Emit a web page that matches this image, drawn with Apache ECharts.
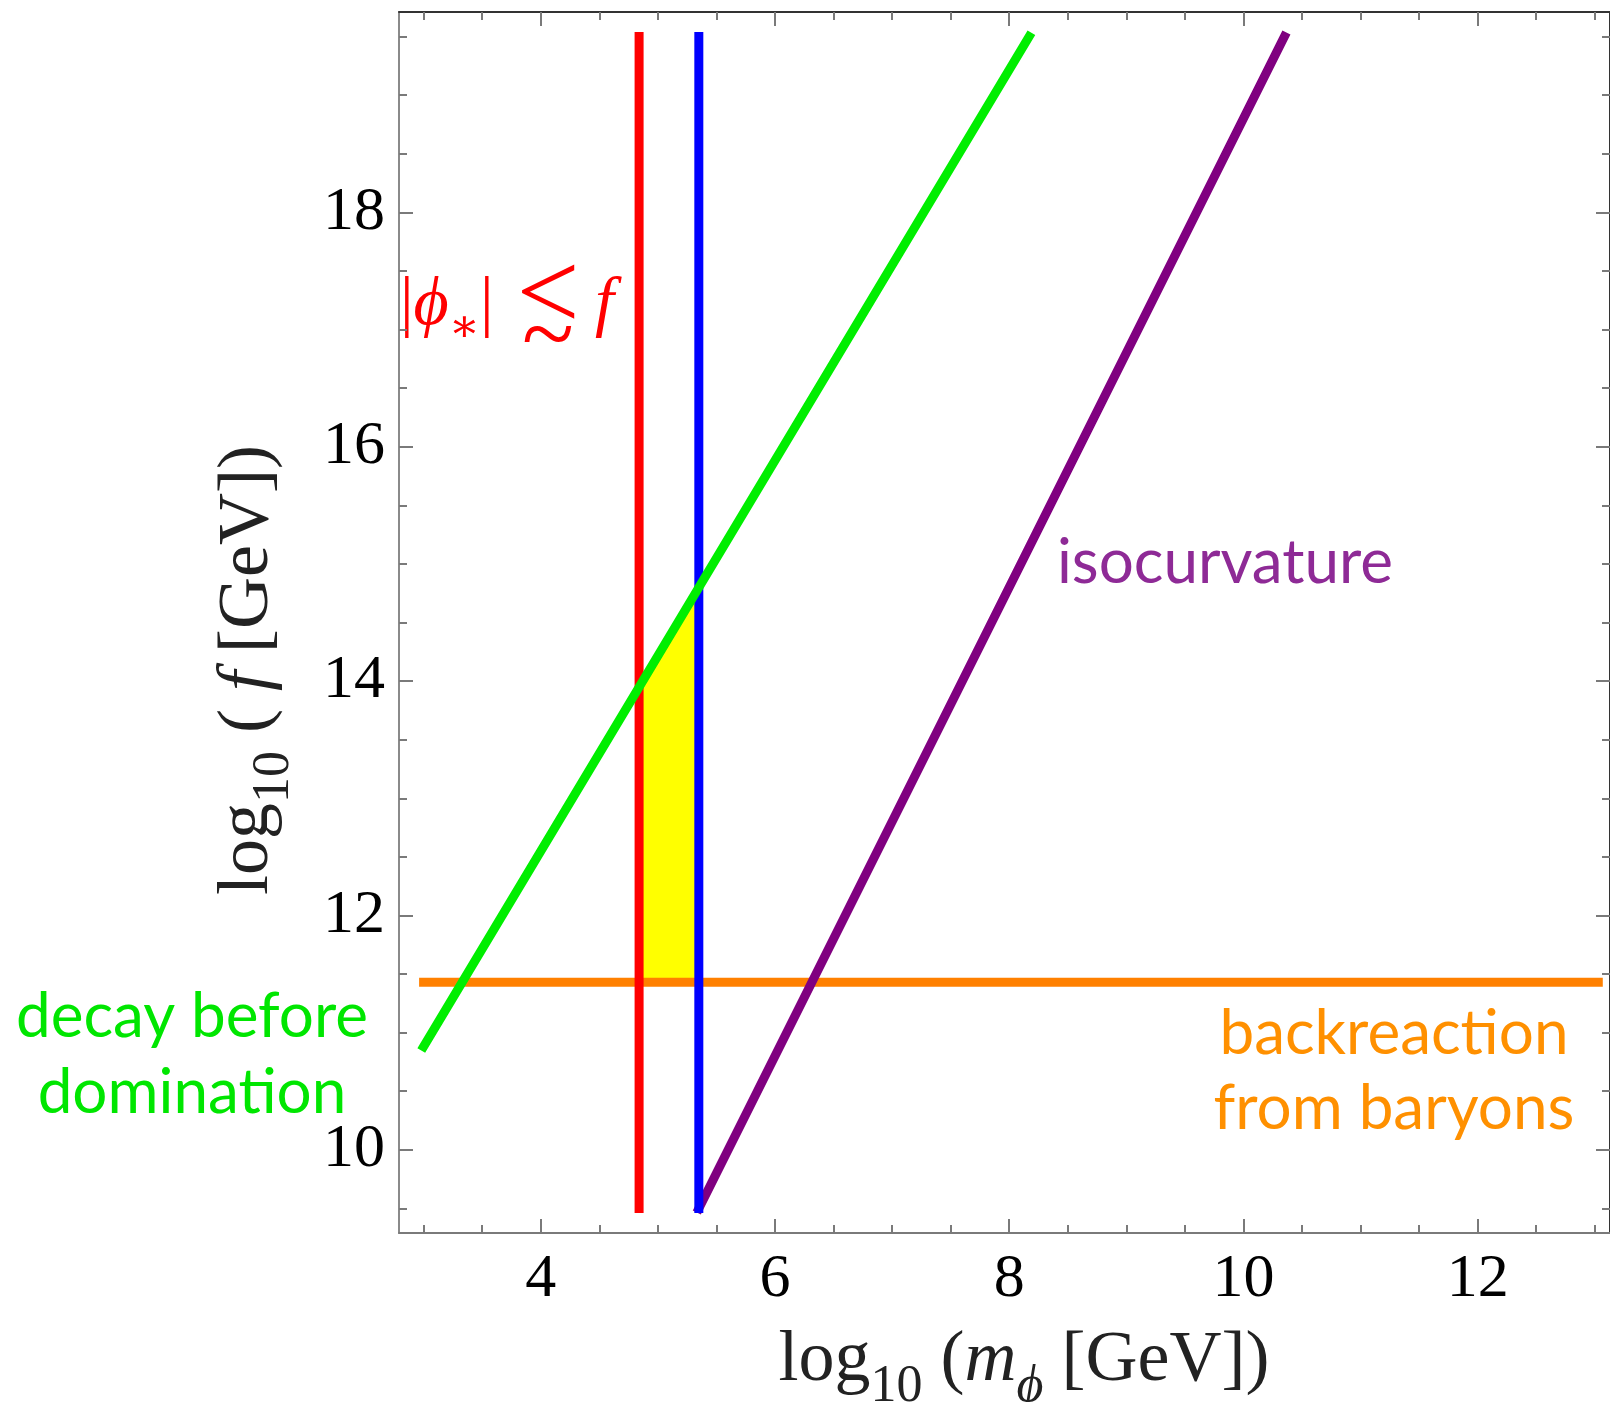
<!DOCTYPE html>
<html>
<head>
<meta charset="utf-8">
<script src="https://cdn.jsdelivr.net/npm/echarts@6/dist/echarts.min.js"></script>
<style>
  html, body { margin: 0; padding: 0; background: #fff; }
  #chart { width: 1610px; height: 1402px; }
</style>
</head>
<body>
<div id="chart"></div>
<script>
// tick positions
const xMajorTicks = [4, 6, 8, 10, 12];
const xMinorTicks = [3, 3.5, 4.5, 5, 5.5, 6.5, 7, 7.5, 8.5, 9, 9.5, 10.5, 11, 11.5, 12.5, 13];
const yMajorTicks = [10, 12, 14, 16, 18];
const yMinorTicks = [9.5, 10.5, 11, 11.5, 12.5, 13, 13.5, 14.5, 15, 15.5, 16.5, 17, 17.5, 18.5, 19, 19.5];

// constraint lines  [log10 m, log10 f]
const redLine = [[4.84, 9.5], [4.84, 19.5]];
const blueLine = [[5.35, 9.5], [5.35, 19.5]];
const greenLine = [[3.0, 10.88], [8.17, 19.5]];
const purpleLine = [[5.35, 9.5], [10.35, 19.5]];
const orangeLine = [[3.0, 11.43], [13.03, 11.43]];
// allowed (yellow) region
const allowedRegion = [[4.84, 11.43], [5.35, 11.43], [5.35, 14.8], [4.84, 13.95]];

const X_MIN = 2.79, X_MAX = 13.13;
const Y_MIN = 9.29, Y_MAX = 19.71;

const serif = "'Liberation Serif', 'DejaVu Serif', 'Times New Roman', serif";
const sans = "Lato, 'Open Sans', sans-serif";
const tickColor = '#7a7a7a';

function xAxis(position, ticks, len, lineColor, showLabel) {
  return {
    type: 'value', gridIndex: 0, position: position, min: X_MIN, max: X_MAX,
    axisLine: { show: !!lineColor, onZero: false, lineStyle: { color: lineColor || '#000', width: 2 } },
    axisTick: { show: true, inside: true, length: len, customValues: ticks, lineStyle: { color: tickColor, width: 2 } },
    axisLabel: { show: showLabel, customValues: ticks, margin: 16, fontFamily: serif, fontSize: 62, color: '#000' },
    splitLine: { show: false }
  };
}
function yAxis(position, ticks, len, lineColor, showLabel) {
  return {
    type: 'value', gridIndex: 0, position: position, min: Y_MIN, max: Y_MAX,
    axisLine: { show: !!lineColor, onZero: false, lineStyle: { color: lineColor || '#000', width: 2 } },
    axisTick: { show: true, inside: true, length: len, customValues: ticks, lineStyle: { color: tickColor, width: 2 } },
    axisLabel: { show: showLabel, customValues: ticks, margin: 14, fontFamily: serif, fontSize: 62, color: '#000' },
    splitLine: { show: false }
  };
}

function lineSeries(data, color, z) {
  return {
    type: 'line', data: data, xAxisIndex: 0, yAxisIndex: 0, showSymbol: false, z: z,
    lineStyle: { color: color, width: 9, cap: 'square' }, silent: true
  };
}

// rich text styles for the math-like titles
function mathRich(color, size, subSize, lh) {
  return {
    n: { fontFamily: serif, fontSize: size, lineHeight: lh, verticalAlign: 'middle', fill: color },
    i: { fontFamily: serif, fontSize: size, fontStyle: 'italic', lineHeight: lh, verticalAlign: 'middle', fill: color },
    s: { fontFamily: serif, fontSize: subSize, lineHeight: subSize, verticalAlign: 'bottom', fill: color },
    si: { fontFamily: serif, fontSize: subSize, fontStyle: 'italic', lineHeight: subSize, verticalAlign: 'bottom', fill: color }
  };
}

function redText(x, y, text, size, italic, align) {
  return {
    type: 'text', x: x, y: y,
    style: {
      text: text, fill: '#ff0000', align: align || 'center', verticalAlign: 'middle',
      font: (italic ? 'italic ' : '') + size + 'px ' + serif
    }
  };
}

const chart = echarts.init(document.getElementById('chart'));

const option = {
  animation: false,
  backgroundColor: '#fff',
  grid: { left: 399, top: 12, width: 1213, height: 1221 },
  xAxis: [
    xAxis('bottom', xMajorTicks, 14, '#7a7a7a', true),
    xAxis('bottom', xMinorTicks, 8, null, false),
    xAxis('top', xMajorTicks, 14, '#333', false),
    xAxis('top', xMinorTicks, 8, null, false)
  ],
  yAxis: [
    yAxis('left', yMajorTicks, 14, '#8a8a8a', true),
    yAxis('left', yMinorTicks, 8, null, false),
    yAxis('right', yMajorTicks, 14, '#333', false),
    yAxis('right', yMinorTicks, 8, null, false)
  ],
  series: [
    {
      type: 'custom', xAxisIndex: 0, yAxisIndex: 0, z: 1, silent: true,
      data: [allowedRegion[0]],
      renderItem: function (params, api) {
        return {
          type: 'polygon',
          shape: { points: allowedRegion.map(function (p) { return api.coord(p); }) },
          style: { fill: '#ffff00' }
        };
      }
    },
    lineSeries(orangeLine, '#ff8000', 2),
    lineSeries(purpleLine, '#800080', 3),
    lineSeries(redLine, '#ff0000', 4),
    lineSeries(blueLine, '#0000ff', 4),
    lineSeries(greenLine, '#00ee00', 5)
  ],
  graphic: [
    {
      type: 'text', x: 1024, y: 1361,
      style: {
        text: '{n|log}{s|10}{n| (}{i|m}{si|ϕ}{n| [GeV])}',
        align: 'center', verticalAlign: 'middle',
        rich: mathRich('#222', 72, 52, 104)
      }
    },
    {
      type: 'text', x: 248, y: 670, rotation: Math.PI / 2,
      style: {
        text: '{n|log}{s|10}{n| ( }{i|f}{n| [GeV])}',
        align: 'center', verticalAlign: 'middle',
        rich: mathRich('#222', 72, 52, 104)
      }
    },
    // |phi_*|  <~  f
    {
      type: 'text', x: 400, y: 306,
      style: {
        text: '{n||}{i|ϕ}{s|∗}{n||}',
        align: 'left', verticalAlign: 'middle',
        rich: mathRich('#ff0000', 68, 46, 92)
      }
    },
    redText(548, 300, '<', 112, false),
    redText(548, 340, '~', 96, false),
    redText(595, 306, 'f', 68, true, 'left'),
    {
      type: 'text', x: 1225, y: 563,
      style: { text: 'isocurvature', font: '62px ' + sans, fill: '#8e2a96', align: 'center', verticalAlign: 'middle' }
    },
    {
      type: 'text', x: 192, y: 1055,
      style: { text: 'decay before\ndomination', font: '62px ' + sans, lineHeight: 76, fill: '#00e600', align: 'center', verticalAlign: 'middle' }
    },
    {
      type: 'text', x: 1394, y: 1071,
      style: { text: 'backreaction\nfrom baryons', font: '62px ' + sans, lineHeight: 75, fill: '#ff9000', align: 'center', verticalAlign: 'middle' }
    }
  ]
};

chart.setOption(option);
</script>
</body>
</html>
